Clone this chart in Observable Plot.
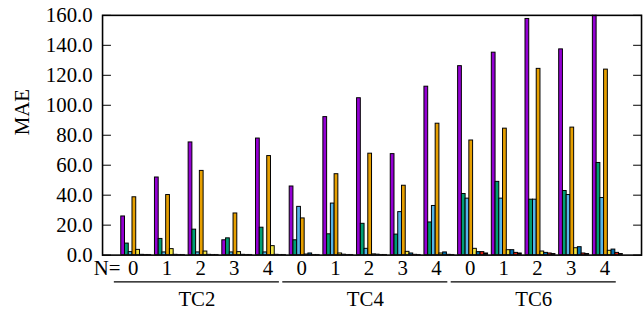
<!DOCTYPE html>
<html><head><meta charset="utf-8">
<script src="https://cdn.jsdelivr.net/npm/d3@7"></script>
<script src="https://cdn.jsdelivr.net/npm/@observablehq/plot@0.6"></script>
<style>html,body{margin:0;padding:0;background:#fff;overflow:hidden;width:644px;height:323px}</style>
</head><body><div id="chart"></div>
<script>
// ---- data ----
const groups = ["TC2", "TC4", "TC6"];
const nValues = [0, 1, 2, 3, 4];
const seriesNames = ["S1", "S2", "S3", "S4", "S5", "S6", "S7", "S8"];
const seriesColors = ["#9400D3", "#009E73", "#56B4E9", "#E69F00", "#F0E442", "#0072B2", "#E51E10", "#000000"];
// values per series: TC2 N0..4, TC4 N0..4, TC6 N0..4
const s1 = [25.8, 51.8, 75.2, 9.9, 77.8, 45.8, 92.1, 104.7, 67.4, 112.4, 126.1, 135.1, 157.6, 137.3, 163.0];
const s2 = [7.7, 10.8, 17.0, 11.2, 18.3, 9.9, 13.9, 20.9, 13.7, 21.8, 40.8, 48.9, 37.0, 42.8, 61.5];
const s3 = [2.0, 1.8, 1.8, 1.8, 1.8, 32.2, 34.4, 4.2, 28.7, 32.8, 37.7, 37.7, 37.0, 40.1, 38.1];
const s4 = [38.6, 40.1, 56.2, 27.8, 66.1, 24.5, 54.0, 67.7, 46.3, 87.7, 76.5, 84.4, 124.3, 85.1, 123.8];
const s5 = [3.5, 4.0, 2.4, 2.0, 6.0, 0.4, 1.1, 0.5, 2.2, 1.1, 4.2, 3.3, 2.4, 4.6, 2.9];
const s6 = [0.2, 0.2, 0.2, 0.2, 0.2, 1.1, 0.3, 0.3, 1.1, 1.8, 2.0, 3.3, 1.5, 5.3, 3.7];
const s7 = [0.1, 0.1, 0.1, 0.1, 0.1, 0.1, 0.1, 0.1, 0.2, 0.2, 2.0, 1.5, 1.1, 1.1, 1.5];
const s8 = [0.1, 0.1, 0.1, 0.1, 0.1, 0.1, 0.1, 0.1, 0.1, 0.1, 1.1, 1.1, 0.7, 0.7, 0.7];
const seriesValues = [s1, s2, s3, s4, s5, s6, s7, s8];
const yTicks = [0, 20, 40, 60, 80, 100, 120, 140, 160];

// ---- table ----
const clusters = groups.flatMap((g) => nValues.map((n) => ({group: g, n})));
const clusterIdx = clusters.map((_, i) => i);
const rows = [];
seriesValues.forEach((vals, j) => vals.forEach((v, i) => rows.push({ci: i, j, series: seriesNames[j], value: v})));
const nS = seriesNames.length, slot = 1 / (nS + 1);
const per = nValues.length;

const chart = Plot.plot({
  width: 650, height: 323,
  marginTop: 15, marginLeft: 103, marginRight: 3, marginBottom: 66,
  style: {fontFamily: "'Liberation Serif', serif", fontSize: "21px", color: "black", background: "white"},
  x: {type: "linear", domain: [-1, clusters.length], axis: null},
  y: {domain: [0, 160], axis: null},
  color: {domain: seriesNames, range: seriesColors},
  marks: [
    Plot.rectY(rows, {
      x1: (d) => d.ci + (d.j - nS / 2) * slot,
      x2: (d) => d.ci + (d.j - nS / 2 + 1) * slot,
      y1: 0, y2: "value", fill: "series", stroke: "black", strokeWidth: 1, clip: true
    }),
    Plot.frame({stroke: "black", strokeWidth: 1.6}),
    Plot.axisY(yTicks, {anchor: "left", tickSize: -9, tickPadding: 19, tickFormat: d3.format(".1f"), label: null, stroke: "black"}),
    Plot.axisY(yTicks, {anchor: "right", tickSize: -9, tickFormat: () => "", label: null, stroke: "black"}),
    Plot.axisX(clusterIdx, {anchor: "bottom", tickSize: 0, tickPadding: 5, dx: -3, tickFormat: (i) => clusters[i].n, label: null}),
    Plot.text(["N="], {frameAnchor: "bottom-left", textAnchor: "start", lineAnchor: "top", dx: -9, dy: 5}),
    Plot.ruleY(groups, {y: 0, x1: (d, i) => i * per - 0.65, x2: (d, i) => i * per + per - 0.75, dy: 27, stroke: "black", strokeWidth: 1.2}),
    Plot.text(groups, {x: (d, i) => i * per + (per - 1) / 2 - 0.2, y: 0, dy: 45, text: (d) => d}),
    Plot.text(["MAE"], {frameAnchor: "left", rotate: -90, dx: -81})
  ]
});
document.getElementById("chart").append(chart);
</script>
</body></html>
